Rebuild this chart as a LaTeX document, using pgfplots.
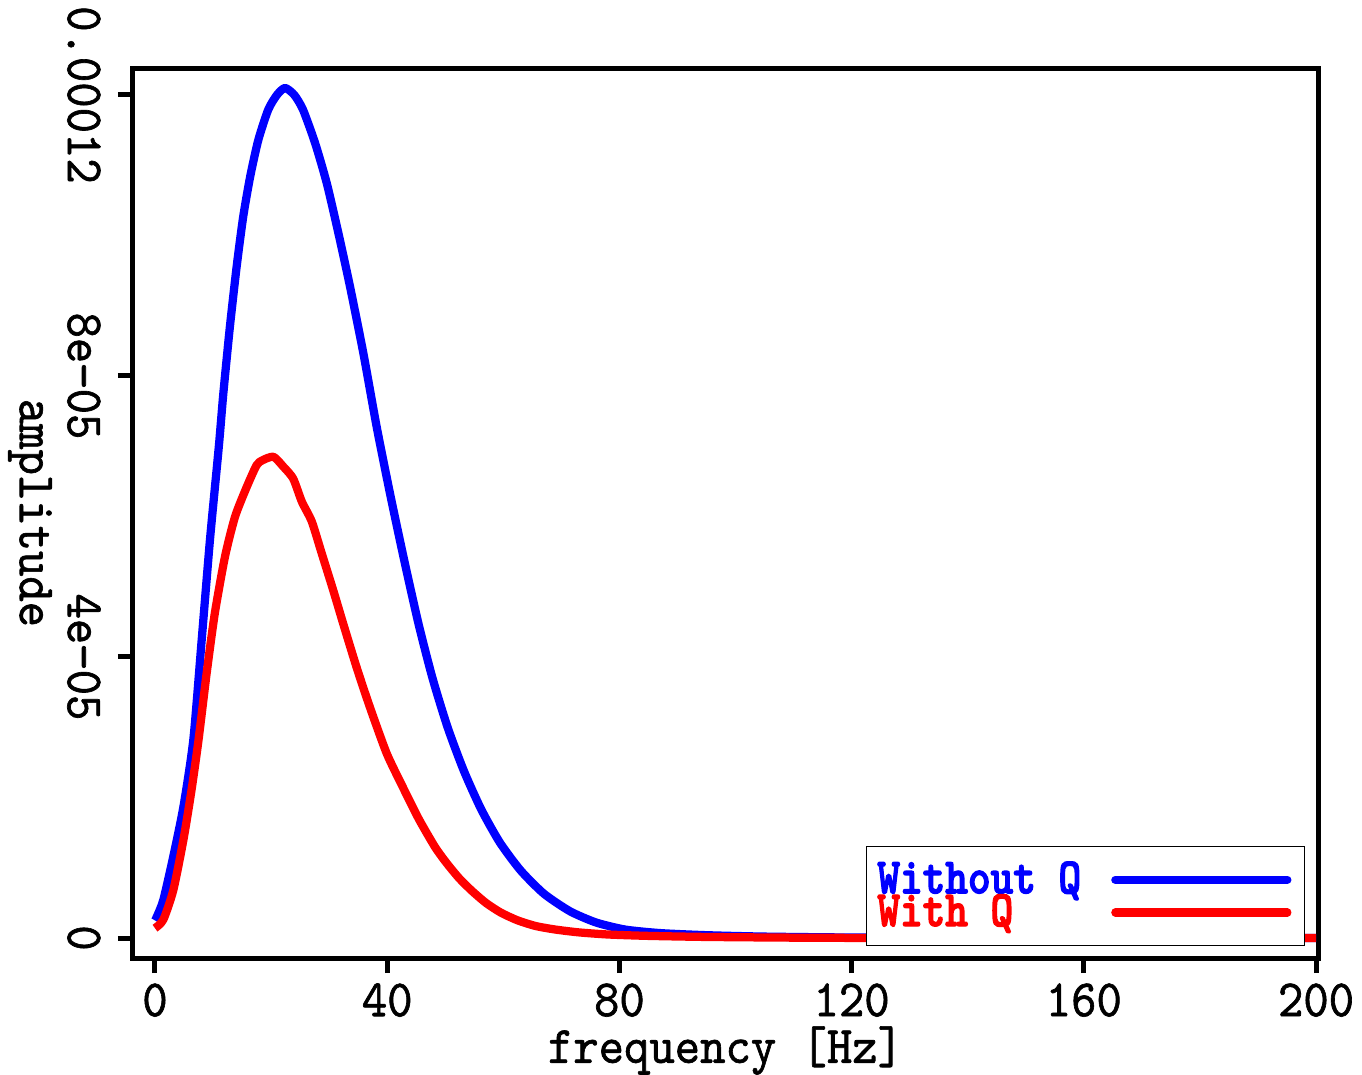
\documentclass[border=0pt]{standalone}
\usepackage{fontspec}
\setmainfont{lmmono10-regular.otf}[FakeStretch=0.92, FakeBold=1.2]
\newfontfamily\legfont{lmmonolt10-bold.otf}[FakeStretch=0.85, FakeBold=2.5]
\usepackage{pgfplots}
\pgfplotsset{compat=1.18}

\begin{document}
\begin{tikzpicture}
\begin{axis}[
    scale only axis,
    width=474pt, height=356pt,
    xmin=-3.79, xmax=200.34,
    ymin=-2.85e-6, ymax=1.2384e-4,
    axis line style={line width=2pt},
    tick align=outside,
    major tick length=6pt,
    tick style={line width=2pt, black},
    xtick pos=bottom, ytick pos=left,
    xtick={0,40,80,120,160,200},
    ytick={0,4e-5,8e-5,1.2e-4},
    yticklabels={0,4e−05,8e−05,0.00012},
    scaled y ticks=false,
    /pgf/number format/assume math mode=true,
    tick label style={font=\fontsize{21}{25}\selectfont, inner sep=0pt},
    xticklabel shift=4pt,
    yticklabel style={rotate=-90, anchor=north},
    yticklabel shift=6.8pt,
    label style={font=\fontsize{21}{25}\selectfont, inner sep=0pt},
    xlabel={frequency [Hz]},
    ylabel={amplitude},
    xlabel style={at={(axis description cs:0.5,-0.104)}, anchor=center},
    ylabel style={at={(axis description cs:-0.0869,0.5)}, rotate=180, anchor=center},
    legend plot pos=right,
    legend cell align=left,
    legend image code/.code={\draw[#1, line cap=round] (0pt,0pt) -- (68.8pt,0pt); \path (69.6pt,0pt);},
    legend style={
        at={(0.989,0.0135)}, anchor=south east,
        draw=black, line width=0.4pt,
        inner xsep=4.4pt, inner ysep=6.2pt,
        column sep=12pt, row sep=-0.9pt,
        font=\legfont\fontsize{20.3}{24}\selectfont,
        nodes={inner sep=0pt, text height=12.4pt, text depth=1.6pt},
    },
]

% without Q
\addplot[color=blue, line width=3.3pt, line join=round, smooth, tension=0.4] coordinates {
    (0,0.025e-4) (0.3,0.030e-4) (1.43,0.054e-4) (3.15,0.116e-4) (4.9,0.187e-4)
    (6.6,0.282e-4) (8.04,0.424e-4) (9.47,0.567e-4) (11.0,0.700e-4) (11.77,0.775e-4)
    (12.9,0.870e-4) (14.07,0.956e-4) (15.2,1.027e-4) (16.4,1.084e-4) (17.8,1.136e-4)
    (19.5,1.179e-4) (21.0,1.200e-4) (22.4,1.210e-4) (24.0,1.200e-4) (25.5,1.179e-4)
    (27.6,1.131e-4) (29.6,1.074e-4) (31.6,1.003e-4) (33.6,0.927e-4) (35.9,0.832e-4)
    (38.2,0.727e-4) (40.6,0.628e-4) (43.0,0.535e-4) (45.4,0.447e-4) (47.8,0.370e-4)
    (50.4,0.300e-4) (53.2,0.238e-4) (56.2,0.183e-4) (59.4,0.136e-4) (63.0,0.096e-4)
    (67.0,0.063e-4) (71.5,0.038e-4) (76.0,0.022e-4) (81.0,0.012e-4) (87,0.007e-4)
    (95,0.004e-4) (105,0.002e-4) (120,0.0007e-4) (140,0.0002e-4) (170,0) (200,0)
};
\addlegendentry{\textcolor{blue}{Without Q}}

% with Q
\addplot[color=red, line width=3.3pt, line join=round, smooth, tension=0.4] coordinates {
    (0,0.014e-4) (1.43,0.026e-4) (3.15,0.068e-4) (4.9,0.140e-4) (6.3,0.211e-4)
    (7.5,0.282e-4) (8.9,0.377e-4) (10.3,0.462e-4) (12.06,0.543e-4) (13.8,0.600e-4)
    (15.8,0.642e-4) (17.5,0.673e-4) (18.5,0.680e-4) (20.4,0.685e-4) (22.1,0.671e-4)
    (23.8,0.654e-4) (25.3,0.621e-4) (27.0,0.593e-4) (28.7,0.548e-4) (30.7,0.495e-4)
    (32.4,0.448e-4) (34.7,0.386e-4) (37.0,0.329e-4) (39.9,0.263e-4) (42.5,0.218e-4)
    (45.4,0.170e-4) (48.2,0.130e-4) (50.2,0.107e-4) (52.4,0.085e-4) (54.6,0.067e-4)
    (57.0,0.050e-4) (59.6,0.036e-4) (62.5,0.025e-4) (65.6,0.017e-4) (69.0,0.012e-4)
    (73.0,0.008e-4) (78.0,0.005e-4) (85,0.003e-4) (95,0.0015e-4) (110,0.0005e-4)
    (130,0) (200,0)
};
\addlegendentry{\textcolor{red}{With Q}}

\end{axis}
\pgfresetboundingbox
\useasboundingbox (-53.2pt,-46.4pt) rectangle (491.6pt,383.2pt);
\end{tikzpicture}
\end{document}
